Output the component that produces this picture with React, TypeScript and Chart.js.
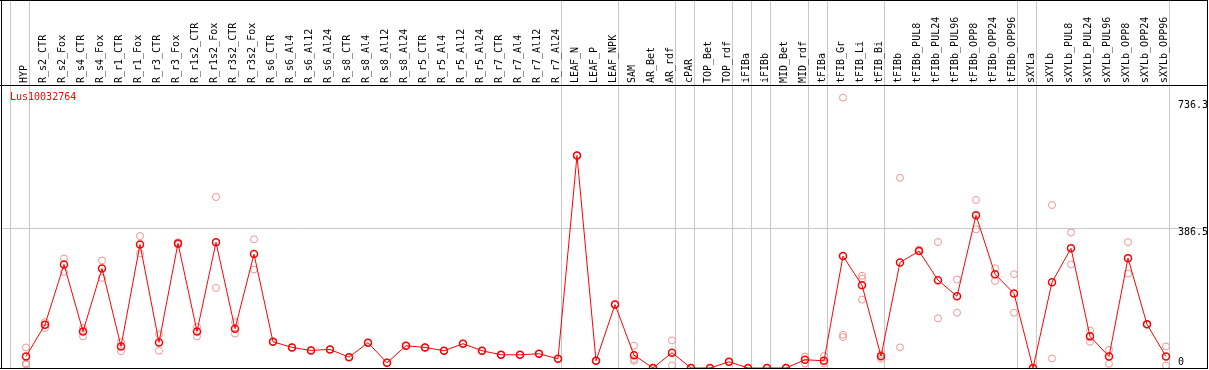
import React, { useEffect, useRef } from 'react';
import { Chart, registerables } from 'chart.js';

Chart.register(...registerables);

const geneName = 'Lus10032764';

const categories = [
  'HYP',
  'R_s2_CTR', 'R_s2_Fox', 'R_s4_CTR', 'R_s4_Fox', 'R_r1_CTR', 'R_r1_Fox', 'R_r3_CTR', 'R_r3_Fox',
  'R_r1s2_CTR', 'R_r1s2_Fox', 'R_r3s2_CTR', 'R_r3s2_Fox',
  'R_s6_CTR', 'R_s6_Al4', 'R_s6_Al12', 'R_s6_Al24', 'R_s8_CTR', 'R_s8_Al4', 'R_s8_Al12', 'R_s8_Al24',
  'R_r5_CTR', 'R_r5_Al4', 'R_r5_Al12', 'R_r5_Al24', 'R_r7_CTR', 'R_r7_Al4', 'R_r7_Al12', 'R_r7_Al24',
  'LEAF_N', 'LEAF_P', 'LEAF_NPK',
  'SAM', 'AR_Bet', 'AR_rdf',
  'cPAR',
  'TOP_Bet', 'TOP_rdf',
  'iFIBa', 'iFIBb',
  'MID_Bet', 'MID_rdf',
  'tFIBa',
  'tFIB_Gr', 'tFIB_Li', 'tFIB_Bi',
  'tFIBb', 'tFIBb_PUL8', 'tFIBb_PUL24', 'tFIBb_PUL96', 'tFIBb_OPP8', 'tFIBb_OPP24', 'tFIBb_OPP96',
  'sXYLa',
  'sXYLb', 'sXYLb_PUL8', 'sXYLb_PUL24', 'sXYLb_PUL96', 'sXYLb_OPP8', 'sXYLb_OPP24', 'sXYLb_OPP96',
];

const meanValues = [
  31.9,
  120, 286.5, 101.3, 275.4, 59.7, 342, 70.8, 344.8,
  101.3, 347.6, 108.8, 315.1,
  72.7, 56.9, 48.6, 51.4, 30, 70, 14.4, 61.6,
  56.9, 47.8, 67.2, 47.8, 36.6, 36.6, 39.4, 25.5,
  588, 20, 175.5,
  35.5, 0, 42.2,
  0,
  0, 17.2,
  0, 0,
  0, 22.8,
  20,
  309.6, 229, 32.8,
  292, 323.4, 243, 198.5, 422.5, 259.6, 206,
  0,
  237.4, 331, 87.5, 31.9, 304, 120.8, 31.9,
];

const replicate1 = [
  56.9,
  127, 303, 110.5, 297.6, 71.6, 365, 93, 348,
  113.3, 473, 127, 356,
  72.7, 56.9, 48.6, 51.4, 30, 70, 14.4, 61.6,
  56.9, 47.8, 67.2, 47.8, 36.6, 36.6, 39.4, 25.5,
  588, 20, 175.5,
  61.6, 0, 76.3,
  0,
  0, 17.2,
  0, 0,
  0, 32,
  32.8,
  748, 255, 37.5,
  526, 323, 348.4, 245, 465, 276, 259.6,
  0,
  451, 375, 104, 50.5, 348.4, 120.8, 59.7,
];

const replicate2 = [
  9.7,
  110.5, 266, 87.5, 249.3, 46.6, 317, 47.8, 342,
  87.5, 221.5, 95, 272.6,
  72.7, 56.9, 48.6, 51.4, 30, 70, 14.4, 61.6,
  56.9, 47.8, 67.2, 47.8, 36.6, 36.6, 39.4, 25.5,
  588, 20, 175.5,
  24.4, 0, 7,
  0,
  0, 17.2,
  0, 0,
  0, 12.5,
  12.5,
  92, 247.6, 25.5,
  57, 328, 137.4, 153, 383.7, 241, 153,
  0,
  26.4, 286.5, 72.7, 11.7, 261.5, 120.8, 7,
];

const replicate3 = [
  13.3,
  null, null, null, null, null, null, null, null,
  null, null, null, null,
  null, null, null, null, null, null, null, null,
  null, null, null, null, null, null, null, null,
  null, null, null,
  20, null, null,
  null,
  null, null,
  null, null,
  null, null,
  null,
  85.5, 189.3, null,
  null, null, null, null, null, null, null,
  null,
  null, null, null, null, null, null, null,
];

const yTickValues = [0, 386.5, 736.3];
const yTickLabels = ['0', '386.5', '736.3'];
// last category index of each group (vertical separators)
const groupEnds = [-1, 0, 28, 31, 34, 35, 37, 38, 39, 41, 42, 45, 52, 53, 60];

const FONT = "'DejaVu Sans Mono', monospace";
const X_MIN = -24 / 19;
const X_MAX = X_MIN + 1205 / 19;
const Y_MAX = 783;

export default function App() {
  const ref = useRef<HTMLCanvasElement>(null);

  useEffect(() => {
    document.body.style.margin = '0';
    const canvas = ref.current;
    if (!canvas) return;

    const toPts = (arr: (number | null)[]) => arr.map((v, i) => ({ x: i, y: v }));

    const framePlugin = {
      id: 'frame',
      afterDraw(chart: any) {
        const ctx = chart.ctx as CanvasRenderingContext2D;
        const a = chart.chartArea;
        ctx.save();
        ctx.fillStyle = '#000';
        ctx.fillRect(0, 0, a.right + 1, 1);
        ctx.fillRect(1, 0, 1, a.bottom + 1);
        ctx.fillRect(a.right, 0, 1, a.bottom + 1);
        ctx.fillRect(0, a.top, a.right, 1);
        ctx.fillRect(0, a.bottom, a.right, 1);
        ctx.fillStyle = '#ff0000';
        ctx.font = `10px ${FONT}`;
        ctx.textBaseline = 'middle';
        ctx.textAlign = 'left';
        ctx.fillText(geneName, a.left + 8, a.top + 12.5);
        ctx.restore();
      },
    };

    const repStyle = {
      showLine: false,
      pointRadius: 3.5,
      pointBorderWidth: 1,
      pointBorderColor: '#f09494',
      pointBackgroundColor: 'rgba(0,0,0,0)',
      borderColor: '#f09494',
      xAxisID: 'x',
      yAxisID: 'y',
    };

    const chart = new Chart(canvas, {
      type: 'line',
      data: {
        datasets: [
          {
            label: 'mean',
            data: toPts(meanValues),
            xAxisID: 'x',
            yAxisID: 'y',
            borderColor: '#ff0000',
            borderWidth: 1,
            tension: 0,
            pointRadius: 3.5,
            pointBorderWidth: 1.5,
            pointBorderColor: '#ff0000',
            pointBackgroundColor: 'rgba(0,0,0,0)',
          },
          { label: 'rep1', data: toPts(replicate1), ...repStyle },
          { label: 'rep2', data: toPts(replicate2), ...repStyle },
          { label: 'rep3', data: toPts(replicate3), ...repStyle },
        ] as any,
      },
      options: {
        responsive: false,
        animation: false,
        devicePixelRatio: 1,
        layout: { padding: { left: 2, right: 2, top: 0, bottom: 2 }, autoPadding: false } as any,
        plugins: {
          legend: { display: false },
          tooltip: { enabled: false },
          title: { display: false },
        },
        scales: {
          x: {
            type: 'linear',
            position: 'top',
            min: X_MIN,
            max: X_MAX,
            bounds: 'data',
            weight: 1,
            grid: { display: false, drawTicks: false },
            border: { display: false },
            afterBuildTicks: (s: any) => {
              s.ticks = categories.map((_, i) => ({ value: i }));
            },
            afterFit: (s: any) => {
              s.height = 85;
              s.paddingLeft = 0;
              s.paddingRight = 0;
            },
            ticks: {
              autoSkip: false,
              minRotation: 90,
              maxRotation: 90,
              padding: 2,
              labelOffset: 10.5,
              color: '#000',
              font: { family: FONT, size: 10 },
              callback: (v: any) => categories[Math.round(Number(v))] ?? '',
            },
          },
          xs: {
            type: 'linear',
            position: 'top',
            min: X_MIN,
            max: X_MAX,
            bounds: 'data',
            weight: 0,
            grid: { color: '#c8c8c8', lineWidth: 1, drawTicks: true, tickLength: 85 },
            border: { display: false },
            ticks: { display: false, autoSkip: false },
            afterBuildTicks: (s: any) => {
              s.ticks = groupEnds.map((g) => ({ value: g + 0.21 }));
            },
            afterFit: (s: any) => {
              s.height = 0;
              s.paddingLeft = 0;
              s.paddingRight = 0;
            },
          },
          y: {
            type: 'linear',
            position: 'right',
            min: 0,
            max: Y_MAX,
            bounds: 'data',
            afterBuildTicks: (s: any) => {
              s.ticks = yTickValues.map((v) => ({ value: v }));
            },
            afterFit: (s: any) => {
              s.width = 0;
              s.paddingTop = 0;
              s.paddingBottom = 0;
            },
            grid: {
              drawTicks: false,
              color: (c: any) => (c.index === 1 ? '#c8c8c8' : 'rgba(0,0,0,0)'),
            },
            border: { display: false },
            ticks: {
              mirror: true,
              crossAlign: 'far',
              padding: 1,
              labelOffset: 4,
              color: '#000',
              font: (c: any) => ({ family: FONT, size: 10, lineHeight: c.index === 0 ? 2 : 1.2 }),
              callback: (_v: any, i: number) => (i === 0 ? [yTickLabels[0], ''] : yTickLabels[i]),
            },
          },
        } as any,
      },
      plugins: [framePlugin],
    });

    return () => chart.destroy();
  }, []);

  return (
    <div>
      <canvas ref={ref} width={1209} height={370} style={{ display: 'block' }} />
    </div>
  );
}
